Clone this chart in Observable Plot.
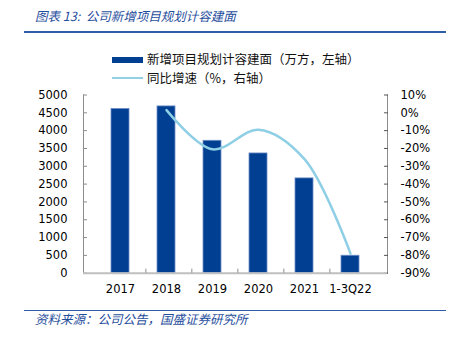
<!DOCTYPE html>
<html>
<head>
<meta charset="utf-8">
<script src="https://cdn.jsdelivr.net/npm/d3@7"></script>
<script src="https://cdn.jsdelivr.net/npm/@observablehq/plot@0.6"></script>
<style>
  html, body { margin: 0; padding: 0; background: #fff; }
  #wrap { position: relative; width: 451px; height: 339px; overflow: hidden; font-family: "Noto Sans CJK SC", sans-serif; }
  #chart { position: absolute; left: 0; top: 0; }
  .abs { position: absolute; white-space: nowrap; }
  .title { left: 35px; top: 7px; font-size: 12.5px; font-style: italic; color: #1F4E9C; line-height: 18px; }
  .rule { left: 24px; width: 422px; background: #2F5DA8; }
  .leg { font-size: 12.5px; color: #111; line-height: 16px; }
  .src { left: 35px; top: 310px; font-size: 12.5px; font-style: italic; color: #1F4E9C; line-height: 18px; }
</style>
</head>
<body>
<div id="wrap">
  <div id="chart"></div>
  <div class="abs title">图表 13:&nbsp; 公司新增项目规划计容建面</div>
  <div class="abs rule" style="top:31px;height:2px;"></div>
  <div class="abs" style="left:112px;top:56.5px;width:31px;height:6px;background:#003F91;"></div>
  <div class="abs leg" style="left:147px;top:51px;">新增项目规划计容建面（万方，左轴）</div>
  <div class="abs" style="left:112px;top:76.5px;width:31px;height:2.5px;background:#92D0E6;"></div>
  <div class="abs leg" style="left:147px;top:70px;">同比增速（%，右轴）</div>
  <div class="abs rule" style="top:309.5px;height:1.5px;"></div>
  <div class="abs src">资料来源：公司公告，国盛证券研究所</div>
</div>
<script>
const categories = ["2017", "2018", "2019", "2020", "2021", "1-3Q22"];
const areaValues = [4610, 4680, 3715, 3360, 2660, 490];
const growthValues = [null, 1.5, -20.5, -9.5, -26, -79];
const leftTicks = [0, 500, 1000, 1500, 2000, 2500, 3000, 3500, 4000, 4500, 5000];
const rightTicks = [10, 0, -10, -20, -30, -40, -50, -60, -70, -80, -90];

// right axis (-90%..10%) mapped onto left domain (0..5000)
const toLeft = g => (g + 90) * 50;
const fromLeft = v => Math.round(v / 50 - 90);

const bars = categories.map((c, i) => ({cat: c, area: areaValues[i]}));
const growth = categories.map((c, i) => ({cat: c, g: growthValues[i]})).filter(d => d.g !== null);

const W = 451, H = 339, mL = 83, mR = 64, mT = 94.5, mB = 66.3;
const step = (W - mL - mR) / categories.length;

const chart = Plot.plot({
  width: W, height: H,
  marginLeft: mL, marginRight: mR, marginTop: mT, marginBottom: mB,
  style: {fontFamily: "'DejaVu Sans', sans-serif", fontSize: "11.5px", color: "#000", background: "transparent"},
  x: {domain: categories, padding: 0.6, label: null},
  y: {domain: [0, 5000], label: null},
  marks: [
    Plot.barY(bars, {x: "cat", y: "area", fill: "#003F91", stroke: "#6F90C8", strokeWidth: 0.8}),
    Plot.line(growth, {x: "cat", y: d => toLeft(d.g), curve: "catmull-rom", stroke: "#8ECFE6", strokeWidth: 2.5}),
    Plot.frame({anchor: "left", stroke: "#8C8C8C"}),
    Plot.frame({anchor: "right", stroke: "#8C8C8C"}),
    Plot.axisY({anchor: "left", ticks: leftTicks, tickSize: 4, dx: 4, tickPadding: 16, stroke: "#8C8C8C", label: null, tickFormat: d => String(d)}),
    Plot.axisY({anchor: "right", ticks: rightTicks.map(toLeft), tickSize: 4, dx: -4, tickPadding: 13, stroke: "#555", label: null, tickFormat: v => fromLeft(v) + "%"}),
    Plot.ruleY([0], {stroke: "#BFBFBF", strokeWidth: 2}),
    Plot.axisX({ticks: categories.slice(0, -1), tickSize: 4, dy: -4, dx: step / 2, text: null, stroke: "#8C8C8C", label: null}),
    Plot.axisX({tickSize: 0, tickPadding: 12, label: null})
  ]
});
document.getElementById("chart").appendChild(chart);
</script>
</body>
</html>
